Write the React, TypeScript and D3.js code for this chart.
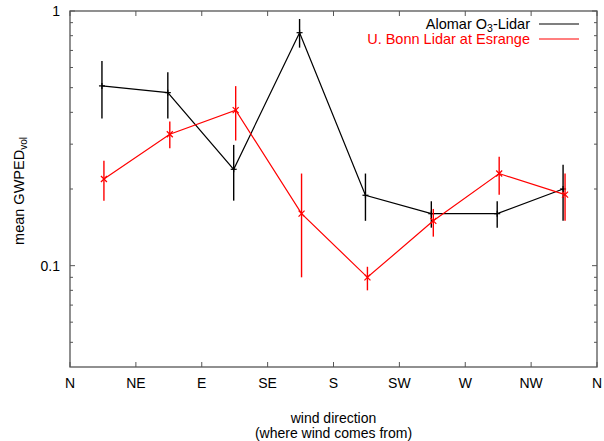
import React from "react";
import * as d3 from "d3";

const directions = ["N", "NE", "E", "SE", "S", "SW", "W", "NW", "N"];
const pointPos = [0.5, 1.5, 2.5, 3.5, 4.5, 5.5, 6.5, 7.5];

const alomarVal = [0.508, 0.478, 0.239, 0.822, 0.189, 0.16, 0.16, 0.2];
const alomarHi = [0.636, 0.575, 0.298, 0.93, 0.23, 0.179, 0.179, 0.249];
const alomarLo = [0.378, 0.378, 0.18, 0.718, 0.15, 0.141, 0.141, 0.15];

const bonnVal = [0.219, 0.328, 0.408, 0.16, 0.09, 0.15, 0.23, 0.19];
const bonnHi = [0.258, 0.368, 0.507, 0.23, 0.099, 0.167, 0.268, 0.23];
const bonnLo = [0.18, 0.289, 0.31, 0.09, 0.08, 0.13, 0.19, 0.15];

const yMajor = [0.1, 1];
const yMinor = [0.05, 0.06, 0.07, 0.08, 0.09, 0.2, 0.3, 0.4, 0.5, 0.6, 0.7, 0.8, 0.9];

const W = 604, H = 441;
const L = 70, R = 597, T = 11, B = 367;
const FONT = "'Liberation Sans', Arial, Helvetica, sans-serif";
const AX = "#555";

export default function App() {
  const x = d3.scaleLinear().domain([0, 8]).range([L, R]);
  const y = d3.scaleLog().domain([0.04, 1]).range([B, T]);
  const line = d3.line<[number, number]>().x(d => d[0]).y(d => d[1]);

  const series = [
    { name: "alomar", color: "#000", val: alomarVal, hi: alomarHi, lo: alomarLo, dx: -0.015, marker: "plus" },
    { name: "bonn", color: "#ff0000", val: bonnVal, hi: bonnHi, lo: bonnLo, dx: 0.015, marker: "x" },
  ];

  return (
    <svg
      width={W}
      height={H}
      style={{ display: "block", background: "#fff", position: "fixed", left: 0, top: 0 }}
      fontFamily={FONT}
    >
      {/* ticks */}
      {directions.map((d, i) => (
        <g key={"xt" + i}>
          <line x1={x(i)} x2={x(i)} y1={B} y2={B - 5} stroke={AX} />
          <line x1={x(i)} x2={x(i)} y1={T} y2={T + 5} stroke={AX} />
          <text x={x(i)} y={B + 21} textAnchor="middle" fontSize={14} fill="#000">{d}</text>
        </g>
      ))}
      {yMajor.map((v, i) => (
        <g key={"ym" + i}>
          <line x1={L} x2={L + 5} y1={y(v)} y2={y(v)} stroke={AX} />
          <line x1={R} x2={R - 5} y1={y(v)} y2={y(v)} stroke={AX} />
          <text x={L - 10} y={y(v) + 5} textAnchor="end" fontSize={14} fill="#000">{String(v)}</text>
        </g>
      ))}
      {yMinor.map((v, i) => (
        <g key={"yn" + i}>
          <line x1={L} x2={L + 3} y1={y(v)} y2={y(v)} stroke={AX} />
          <line x1={R} x2={R - 3} y1={y(v)} y2={y(v)} stroke={AX} />
        </g>
      ))}
      <rect x={L} y={T} width={R - L} height={B - T} fill="none" stroke={AX} strokeWidth={1.3} />

      {/* series */}
      {series.map(s => {
        const pts: [number, number][] = s.val.map((v, i) => [x(pointPos[i] + s.dx), y(v)]);
        return (
          <g key={s.name} stroke={s.color} strokeWidth={1.2} fill="none">
            <path d={line(pts) || ""} />
            {s.val.map((v, i) => {
              const px = x(pointPos[i] + s.dx);
              return (
                <g key={i}>
                  <line x1={px} x2={px} y1={y(s.hi[i])} y2={y(s.lo[i])} strokeWidth={1.4} />
                  {s.marker === "plus" ? (
                    <>
                      <line x1={px - 3} x2={px + 3} y1={y(v)} y2={y(v)} />
                      <line x1={px} x2={px} y1={y(v) - 3} y2={y(v) + 3} />
                    </>
                  ) : (
                    <>
                      <line x1={px - 3} x2={px + 3} y1={y(v) - 3} y2={y(v) + 3} />
                      <line x1={px - 3} x2={px + 3} y1={y(v) + 3} y2={y(v) - 3} />
                    </>
                  )}
                </g>
              );
            })}
          </g>
        );
      })}

      {/* legend */}
      <text x={530} y={28.5} textAnchor="end" fontSize={14.5} fill="#000">
        Alomar O<tspan fontSize={10.5} dy={3.5}>3</tspan><tspan dy={-3.5}>-Lidar</tspan>
      </text>
      <line x1={539} x2={579} y1={24} y2={24} stroke="#000" strokeWidth={1.2} />
      <text x={530} y={44} textAnchor="end" fontSize={14.5} fill="#ff0000">U. Bonn Lidar at Esrange</text>
      <line x1={539} x2={579} y1={39} y2={39} stroke="#ff0000" strokeWidth={1.2} />

      {/* axis titles */}
      <text x={(L + R) / 2} y={423} textAnchor="middle" fontSize={14} fill="#000">wind direction</text>
      <text x={(L + R) / 2} y={438} textAnchor="middle" fontSize={14} fill="#000">(where wind comes from)</text>
      <text transform={`translate(24, ${(T + B) / 2 + 2}) rotate(-90)`} textAnchor="middle" fontSize={14.5} fill="#000">
        mean GWPED<tspan fontSize={10} dy={3}>vol</tspan>
      </text>
    </svg>
  );
}
